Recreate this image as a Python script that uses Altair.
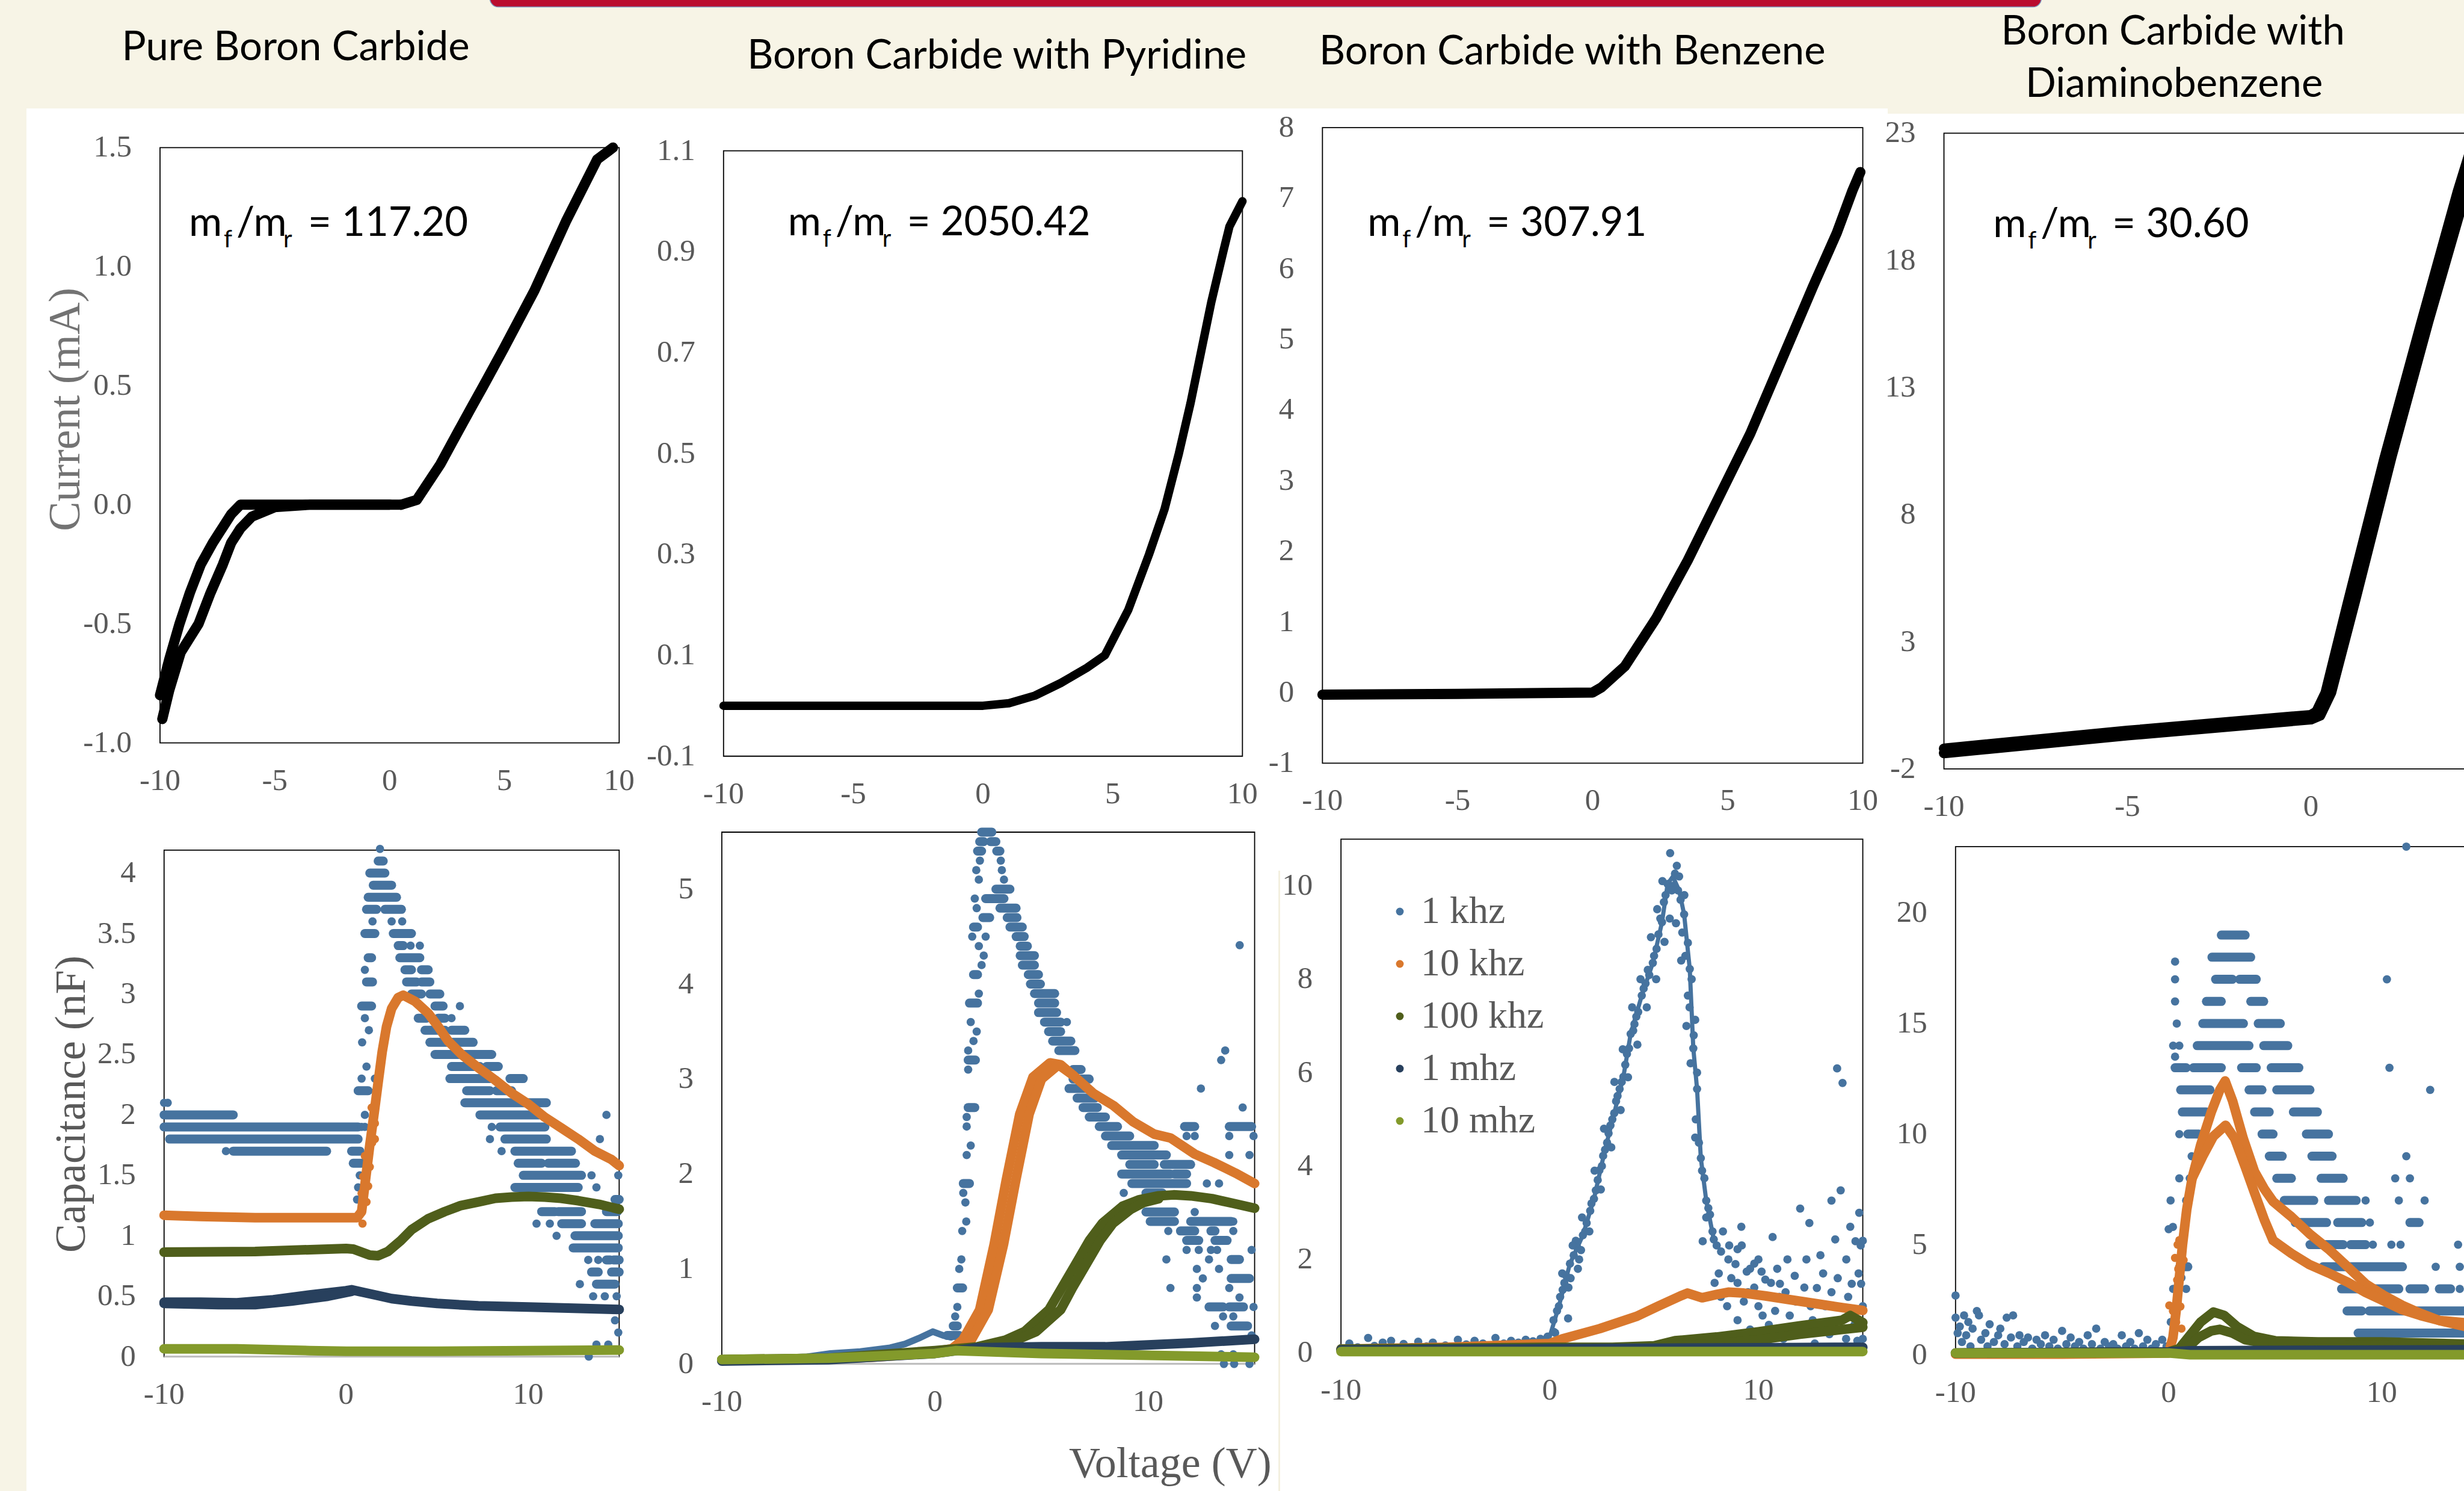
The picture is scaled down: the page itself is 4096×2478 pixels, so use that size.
import altair as alt
import pandas as pd

F = 4096 / 4250  # reference pixels -> output pixels

CREAM = "#F7F4E6"
GRAY_TXT = "#595959"

# ---------------- text ----------------
TITLES = ["Pure Boron Carbide", "Boron Carbide with Pyridine", "Boron Carbide with Benzene",
          "Boron Carbide with", "Diaminobenzene"]
RATIOS = ["117.20", "2050.42", "307.91", "30.60"]
SERIES = ["1 khz", "10 khz", "100 khz", "1 mhz", "10 mhz"]
COLORS = ["#46739F", "#D9782D", "#4F5E1B", "#28405D", "#839A2B"]
Y_TITLE_IV = "Current (mA)"
Y_TITLE_C = "Capacitance (nF)"
X_TITLE = "Voltage (V)"

X_TOP = ["-10", "-5", "0", "5", "10"]
X_TOP_CUT = ["-10", "-5", "0"]          # the right half of this panel lies outside the picture
X_BOT = ["-10", "0", "10"]
Y_P1 = ["-1.0", "-0.5", "0.0", "0.5", "1.0", "1.5"]
Y_P2 = ["-0.1", "0.1", "0.3", "0.5", "0.7", "0.9", "1.1"]
Y_P3 = ["-1", "0", "1", "2", "3", "4", "5", "6", "7", "8"]
Y_P4 = ["-2", "3", "8", "13", "18", "23"]
Y_P5 = ["0", "0.5", "1", "1.5", "2", "2.5", "3", "3.5", "4"]
Y_P6 = ["0", "1", "2", "3", "4", "5"]
Y_P7 = ["0", "2", "4", "6", "8", "10"]
Y_P8 = ["0", "5", "10", "15", "20"]

# ---------------- I-V data ----------------
P1_LEFT_A = [(-10, -0.8), (-9.6, -0.65), (-9.15, -0.5), (-8.7, -0.37), (-8.22, -0.25), (-7.7, -0.16),
             (-7.3, -0.1), (-6.9, -0.04), (-6.5, 0.0), (-5.0, 0.0), (0.0, 0.0), (0.5, 0.0)]
P1_LEFT_B = [(-9.9, -0.9), (-9.6, -0.78), (-9.1, -0.62), (-8.32, -0.5), (-7.8, -0.37), (-7.26, -0.25),
             (-6.9, -0.16), (-6.5, -0.1), (-6.0, -0.05), (-5.0, -0.01), (-3.5, 0.0), (0.0, 0.0)]
P1_RIGHT = [(0.5, 0.0), (1.18, 0.02), (2.21, 0.17), (3.0, 0.31), (3.57, 0.41), (4.09, 0.5), (4.94, 0.65),
            (6.31, 0.9), (7.68, 1.19), (9.04, 1.45), (9.73, 1.5)]
P2_IV = [(-10, 0.0), (0, 0.0), (1, 0.005), (2, 0.02), (3, 0.045), (4, 0.075), (4.7, 0.1), (5.6, 0.19),
         (6.4, 0.3), (7.0, 0.39), (7.55, 0.5), (8.0, 0.6), (8.4, 0.7), (8.8, 0.8), (9.26, 0.9),
         (9.5, 0.95), (9.8, 0.98), (10.0, 1.0)]
P3_IV = [(-10, -0.03), (-5, -0.02), (0, 0.0), (0.32, 0.07), (1.19, 0.37), (2.35, 1.05), (3.52, 1.87),
         (4.68, 2.77), (5.84, 3.67), (7.0, 4.71), (8.17, 5.76), (9.04, 6.51), (9.62, 7.11), (9.91, 7.37)]
P4_IV_A = [(-10, -1.2), (-5, -0.5), (0, 0.12), (0.15, 0.25), (0.4, 1.0), (1.0, 4.5), (2.0, 10.2),
           (3.0, 15.5), (4.0, 20.7), (4.45, 22.8)]
P4_IV_B = [(-10, -1.38), (-5, -0.68), (0, -0.05), (0.25, 0.1), (0.55, 1.0), (1.2, 4.6), (2.2, 10.3),
           (3.2, 15.6), (4.2, 20.6), (4.6, 22.6)]

# ---------------- capacitance data ----------------
# blue (1 khz) rows of dense dots: (level, from V, to V) and single dots (V, nF)
P5_BLUE_SEG = [
    (2.0, -10.0, -6.2), (1.9, -10.0, 0.66), (1.8, -9.7, 0.66), (1.7, -6.2, -1.07), (1.7, 0.30, 0.76),
    (1.6, 0.39, 0.85), (4.1, 1.76, 2.04), (4.0, 1.30, 2.13), (3.9, 1.49, 2.50), (3.8, 1.21, 2.77),
    (3.7, 1.12, 1.67), (3.7, 2.13, 3.04), (3.5, 1.03, 1.58), (3.5, 2.59, 3.59), (3.4, 2.86, 3.14),
    (3.3, 1.21, 1.40), (3.3, 2.95, 4.05), (3.2, 3.23, 3.59), (3.2, 4.14, 4.51), (3.1, 1.12, 1.45),
    (3.1, 3.32, 3.87), (3.1, 4.14, 4.60), (3.0, 3.59, 4.14), (3.0, 4.60, 5.15), (2.9, 0.85, 1.40),
    (2.9, 4.88, 5.33), (2.8, 3.96, 4.42), (2.8, 5.06, 5.43), (2.7, 4.33, 5.43), (2.7, 5.79, 6.52),
    (2.6, 4.60, 6.98), (2.5, 4.88, 8.0), (2.4, 5.79, 7.35), (2.4, 7.71, 8.36), (2.3, 5.70, 7.90),
    (2.3, 9.0, 9.73), (2.2, 0.66, 1.21), (2.2, 6.62, 7.90), (2.2, 8.26, 9.09), (2.1, 6.52, 11.0),
    (2.0, 7.35, 10.6), (1.9, 8.45, 10.92), (1.8, 8.72, 11.0), (1.7, 9.27, 12.38), (1.6, 9.45, 10.74),
    (1.6, 11.1, 12.6), (1.5, 9.73, 12.93), (1.4, 9.27, 12.75), (1.3, 14.77, 15.0), (1.2, 10.74, 11.47),
    (1.2, 11.65, 12.93), (1.2, 14.3, 14.9), (1.1, 11.84, 12.93), (1.1, 13.66, 14.95), (1.0, 12.57, 14.95),
    (0.9, 12.47, 14.95), (0.8, 14.3, 14.5), (0.8, 14.7, 15.0), (0.7, 13.48, 13.85), (0.7, 14.58, 15.0),
    (0.6, 13.75, 14.77)]
P5_BLUE_PTS = [
    (-10.0, 2.1), (-9.8, 2.1), (-6.6, 1.7), (0.85, 1.9), (1.03, 1.9), (1.86, 4.2), (1.45, 3.6), (2.50, 3.6),
    (3.08, 3.6), (3.54, 3.4), (4.05, 3.4), (1.03, 3.2), (6.25, 2.9), (1.03, 2.8), (5.79, 2.8), (1.25, 2.7),
    (0.88, 2.6), (1.12, 2.4), (0.85, 2.3), (1.58, 2.3), (1.03, 2.0), (14.3, 2.0), (8.0, 1.9), (7.90, 1.8),
    (13.94, 1.8), (0.48, 1.7), (8.54, 1.7), (13.48, 1.5), (14.95, 1.5), (0.66, 1.4), (13.75, 1.4),
    (10.46, 1.1), (11.19, 1.1), (11.56, 1.0), (13.3, 0.8), (13.85, 0.8), (12.84, 0.6), (13.57, 0.5),
    (14.21, 0.5), (14.86, 0.5), (14.77, 0.3), (14.95, 0.2), (13.75, 0.1), (14.4, 0.1), (13.33, 0.0),
    (0.6, 1.3), (0.75, 1.5)]
P5_ORANGE_PTS = [(0.94, 1.49), (1.21, 1.41), (1.03, 1.66), (1.43, 1.77), (1.58, 1.80), (1.30, 1.57),
                 (1.12, 1.28), (0.85, 1.35), (1.58, 1.93), (1.40, 2.06), (0.9, 1.1)]
P5_ORANGE = [(-10, 1.17), (-8, 1.16), (-5, 1.15), (-2, 1.15), (0, 1.15), (0.6, 1.15), (0.85, 1.2),
             (1.03, 1.42), (1.30, 1.75), (1.58, 2.06), (1.76, 2.27), (1.98, 2.52), (2.22, 2.73),
             (2.50, 2.88), (2.86, 2.97), (3.14, 2.99), (3.78, 2.94), (4.51, 2.84), (5.06, 2.73),
             (5.61, 2.61), (6.34, 2.50), (7.26, 2.39), (8.17, 2.29), (9.09, 2.18), (10.0, 2.09),
             (10.92, 1.98), (11.84, 1.89), (12.75, 1.80), (13.67, 1.70), (14.58, 1.63), (15.0, 1.58)]
P5_OLIVE = [(-10, 0.865), (-5, 0.87), (0, 0.895), (0.4, 0.89), (0.85, 0.865), (1.3, 0.84), (1.76, 0.835),
            (2.3, 0.87), (3.0, 0.96), (3.59, 1.05), (4.5, 1.14), (5.42, 1.20), (6.3, 1.25), (7.26, 1.28),
            (8.2, 1.31), (9.09, 1.32), (10.0, 1.325), (10.92, 1.32), (11.8, 1.31), (12.75, 1.29),
            (13.9, 1.26), (15.0, 1.22)]
P5_NAVY = [(-10, 0.45), (-8, 0.45), (-6, 0.445), (-4, 0.47), (-2, 0.51), (0, 0.545), (0.3, 0.553),
           (1.0, 0.53), (1.76, 0.505), (2.5, 0.48), (3.59, 0.46), (5.0, 0.44), (7.26, 0.42), (10.0, 0.41),
           (12.5, 0.40), (15.0, 0.39)]
P5_NAVY_B = [(-10, 0.44), (-7, 0.43), (-5, 0.43), (-3, 0.46), (-1, 0.5), (0.3, 0.54)]
P5_LIGHT = [(-10, 0.065), (-6, 0.065), (-2, 0.05), (0, 0.045), (5, 0.045), (10, 0.05), (15, 0.055)]

P6_BLUE_SEG = [
    (5.6, 2.19, 2.67), (5.5, 2.10, 2.29), (5.5, 2.61, 2.86), (5.4, 2.0, 2.19), (5.4, 2.90, 3.05),
    (5.0, 2.86, 3.52), (4.9, 2.38, 3.24), (4.8, 3.05, 3.81), (4.7, 2.25, 2.57), (4.7, 3.39, 3.85),
    (4.6, 1.81, 2.0), (4.6, 3.52, 4.10), (4.5, 3.81, 4.19), (4.4, 4.0, 4.34), (4.3, 4.0, 4.67),
    (4.2, 4.1, 4.67), (4.1, 1.81, 2.0), (4.1, 4.38, 4.86), (4.0, 4.48, 4.95), (3.9, 4.67, 5.62),
    (3.8, 1.62, 2.0), (3.8, 4.86, 5.62), (3.7, 4.86, 5.71), (3.6, 5.14, 5.90), (3.5, 5.33, 5.90),
    (3.4, 5.52, 6.38), (3.3, 5.81, 6.57), (3.2, 1.56, 1.90), (3.1, 6.48, 6.86), (3.0, 6.48, 7.24),
    (2.9, 6.29, 7.14), (2.8, 6.67, 7.52), (2.7, 1.56, 1.87), (2.7, 6.95, 7.62), (2.6, 7.24, 8.0),
    (2.5, 7.71, 8.57), (2.5, 11.71, 12.19), (2.5, 13.81, 14.86), (2.4, 8.0, 9.14), (2.3, 8.29, 10.29),
    (2.2, 8.76, 10.86), (2.1, 9.14, 10.29), (2.1, 10.76, 12.0), (2.0, 8.76, 11.05), (2.0, 11.24, 11.81),
    (1.9, 1.33, 1.62), (1.9, 9.24, 11.81), (1.8, 9.9, 10.67), (1.6, 9.9, 11.24), (1.5, 10.1, 11.24),
    (1.5, 12.0, 13.9), (1.4, 11.52, 12.19), (1.4, 12.95, 13.14), (1.3, 11.81, 12.38), (1.3, 13.14, 13.71),
    (1.1, 13.9, 14.29), (0.9, 13.9, 14.76), (0.8, 1.05, 1.30), (0.6, 12.86, 13.52), (0.6, 13.81, 14.48),
    (0.4, 0.86, 1.05), (0.4, 13.9, 14.67), (0.3, 0.57, 1.14)]
P6_BLUE_PTS = [
    (2.11, 5.3), (3.09, 5.3), (1.94, 5.2), (3.14, 5.2), (2.06, 5.1), (3.24, 5.1), (1.87, 4.9), (1.96, 4.8),
    (1.75, 4.5), (2.38, 4.5), (2.06, 4.4), (2.29, 4.3), (2.19, 4.2), (2.06, 3.9), (1.68, 3.6), (6.19, 3.6),
    (1.96, 3.5), (1.81, 3.4), (1.56, 3.3), (13.43, 3.2), (13.62, 3.3), (1.56, 3.1), (12.48, 2.9),
    (14.44, 2.7), (1.49, 2.6), (1.49, 2.5), (11.81, 2.4), (12.19, 2.4), (13.81, 2.4), (14.95, 2.4),
    (1.68, 2.3), (1.49, 2.2), (13.81, 2.2), (14.76, 2.2), (12.76, 1.9), (13.33, 1.9), (1.33, 1.8),
    (8.86, 1.8), (1.43, 1.7), (12.19, 1.6), (1.47, 1.5), (14.0, 1.5), (1.28, 1.4), (10.95, 1.4),
    (14.0, 1.4), (11.81, 1.2), (12.38, 1.2), (12.95, 1.2), (13.24, 1.2), (14.86, 1.2), (1.24, 1.1),
    (10.86, 1.1), (12.86, 1.1), (1.14, 1.0), (12.29, 1.0), (13.33, 1.0), (12.57, 0.9), (11.05, 0.8),
    (12.29, 0.8), (13.81, 0.8), (12.29, 0.7), (14.29, 0.7), (1.05, 0.6), (14.95, 0.6), (0.95, 0.5),
    (13.52, 0.5), (14.0, 0.5), (13.14, 0.4), (14.86, 0.3), (13.43, 0.1), (14.0, 0.1), (13.56, 0.0),
    (14.04, 0.0), (14.76, 0.0), (14.3, 4.41)]
P6_BLUE_LINE = [(-10, 0.05), (-8, 0.06), (-6, 0.075), (-4.9, 0.11), (-3.5, 0.13), (-2.1, 0.17),
                (-1.4, 0.21), (-0.76, 0.27), (-0.1, 0.34), (0.38, 0.3), (0.76, 0.28), (1.0, 0.3)]
P6_ORANGE_A = [(-10, 0.04), (-6, 0.05), (-3, 0.07), (-1, 0.1), (0, 0.13), (0.8, 0.16), (1.3, 0.25),
               (2.1, 0.57), (2.78, 1.26), (3.35, 1.94), (3.98, 2.63), (4.6, 3.02), (5.4, 3.17), (5.9, 3.15),
               (6.48, 3.04), (7.43, 2.85), (8.38, 2.72), (9.3, 2.55), (10.29, 2.42), (11.05, 2.38),
               (12.19, 2.21), (13.1, 2.12), (14.1, 2.01), (15.0, 1.9)]
P6_ORANGE_B = [(0.8, 0.16), (1.7, 0.25), (2.5, 0.57), (3.22, 1.26), (3.8, 1.94), (4.42, 2.63), (5.0, 3.0),
               (5.8, 3.15), (6.48, 3.04)]
P6_OLIVE_A = [(-10, 0.046), (-5, 0.06), (0, 0.14), (2, 0.18), (3.3, 0.25), (4.2, 0.34), (5.35, 0.57),
              (5.95, 0.8), (6.55, 1.03), (7.25, 1.3), (7.85, 1.48), (8.8, 1.66), (9.6, 1.73), (10.5, 1.77),
              (11.2, 1.78), (12.0, 1.77), (13.0, 1.74), (14.0, 1.69), (15.0, 1.64)]
P6_OLIVE_B = [(2, 0.17), (3.7, 0.24), (4.75, 0.34), (5.9, 0.57), (6.45, 0.8), (7.05, 1.03), (7.75, 1.3),
              (8.35, 1.48), (9.2, 1.63), (9.8, 1.70), (10.5, 1.74)]
P6_NAVY = [(-10, 0.03), (-5, 0.045), (0, 0.11), (2, 0.17), (5, 0.18), (8, 0.18), (10, 0.2), (12, 0.22),
           (15, 0.26)]
P6_LIGHT = [(-10, 0.046), (-5, 0.06), (0, 0.11), (1, 0.14), (5, 0.11), (10, 0.09), (15, 0.07)]

P7_BLUE_RIDGE = [(0.0, 0.35), (0.44, 1.0), (0.97, 1.91), (1.59, 2.52), (2.12, 3.3), (2.65, 4.35),
                 (3.09, 5.13), (3.53, 5.91), (3.88, 6.83), (4.41, 7.65), (4.94, 8.35), (5.38, 9.22),
                 (5.65, 10.04), (5.9, 10.2), (6.2, 9.9), (6.44, 9.39), (6.71, 8.22), (6.88, 6.52),
                 (7.06, 5.65), (7.24, 4.17), (7.5, 3.26), (7.86, 2.43)]
P7_BLUE_PTS = [
    (-10, 0.1), (-9.6, 0.2), (-9.2, 0.12), (-8.7, 0.32), (-8.4, 0.15), (-8.0, 0.22), (-7.6, 0.26),
    (-7.0, 0.19), (-6.6, 0.12), (-6.3, 0.24), (-5.9, 0.14), (-5.6, 0.22), (-5.0, 0.16), (-4.4, 0.28),
    (-4.0, 0.18), (-3.6, 0.26), (-3.2, 0.2), (-2.6, 0.32), (-2.2, 0.2), (-1.85, 0.26), (-1.5, 0.22),
    (-1.15, 0.28), (-0.8, 0.25), (-0.44, 0.3), (-0.1, 0.35), (0.2, 0.45),
    (0.18, 0.70), (0.26, 0.43), (0.44, 1.0), (0.62, 1.35), (0.79, 1.65), (0.88, 0.74), (0.97, 1.91),
    (1.15, 2.09), (1.32, 2.26), (1.41, 2.0), (1.59, 2.52), (1.77, 2.78), (1.94, 3.04), (2.12, 3.3),
    (2.21, 3.48), (2.38, 3.91), (2.56, 4.22), (2.65, 4.35), (2.82, 4.7), (2.91, 4.87), (3.09, 5.13),
    (3.18, 5.39), (3.35, 5.65), (3.53, 5.91), (3.62, 6.17), (3.80, 6.52), (3.88, 6.83), (4.06, 7.04),
    (4.24, 7.3), (4.41, 7.65), (4.59, 7.91), (4.77, 8.09), (4.94, 8.35), (5.12, 8.65), (5.21, 8.96),
    (5.38, 9.22), (5.47, 9.65), (5.65, 10.04), (5.77, 10.7), (6.0, 10.26), (6.09, 10.43), (5.91, 10.0),
    (6.27, 9.7), (6.44, 9.39), (6.62, 8.78), (6.71, 8.22), (6.8, 8.0), (6.62, 7.65), (6.97, 7.13),
    (6.88, 6.52), (7.06, 6.0), (7.06, 5.65), (6.97, 4.61), (7.24, 4.17), (7.41, 3.74), (7.5, 3.26),
    (7.68, 2.96), (7.33, 2.39), (7.86, 2.43), (8.21, 2.17), (8.56, 2.0),
    (0.5, 1.2), (0.7, 1.5), (1.0, 1.6), (1.25, 2.4), (1.5, 2.2), (1.7, 2.6), (2.0, 3.2), (2.3, 3.7),
    (2.5, 4.0), (2.75, 4.5), (3.0, 5.0), (3.25, 5.5), (3.45, 5.8), (3.7, 6.4), (4.0, 6.9), (4.15, 7.2),
    (4.5, 7.8), (4.7, 8.2), (5.0, 8.5), (5.3, 9.3), (5.55, 9.8), (5.85, 9.9), (6.15, 9.9), (6.35, 9.0),
    (6.5, 8.5), (6.7, 7.4), (6.9, 6.8), (7.0, 5.0), (7.15, 4.5), (7.3, 3.9), (7.6, 3.1),
    (0.9, 1.4), (1.35, 1.8), (1.9, 2.6), (2.45, 3.5), (2.95, 4.4), (3.4, 5.2), (3.75, 5.9), (4.2, 6.6),
    (4.65, 7.4), (5.1, 8.0), (5.5, 8.8), (5.75, 9.3), (6.05, 9.2), (6.3, 8.4), (6.55, 7.0), (6.75, 6.2),
    (0.35, 0.9), (0.6, 1.7), (1.1, 2.3), (1.55, 2.9), (2.15, 3.9), (2.6, 4.8), (3.1, 5.8), (3.5, 6.5),
    (3.95, 7.4), (4.35, 8.0), (4.85, 8.9), (5.15, 9.5), (5.4, 10.1), (6.2, 10.2), (6.45, 9.8),
    (9.0, 2.22), (9.18, 2.7), (9.44, 1.74), (9.8, 1.91), (10.15, 1.74), (10.33, 1.57), (10.68, 2.48),
    (11.03, 1.48), (11.39, 2.0), (11.74, 1.65), (12.0, 3.09), (12.44, 2.78), (12.8, 1.39), (12.97, 2.09),
    (13.5, 3.26), (13.68, 2.43), (13.77, 6.09), (14.03, 5.78), (13.94, 3.48), (14.21, 2.0), (14.47, 1.48),
    (14.65, 2.39), (14.83, 3.0), (14.92, 1.48), (14.74, 0.26), (8.5, 1.0), (9.0, 0.7), (9.5, 1.3),
    (10.0, 1.0), (10.5, 0.6), (11.0, 1.2), (11.5, 0.8), (12.0, 0.4), (12.5, 1.0), (13.0, 0.6), (13.5, 1.3),
    (14.0, 0.5), (14.5, 0.9), (15.0, 0.3), (11.2, 0.3), (12.7, 0.2), (10.8, 0.9), (7.5, 2.9), (7.8, 2.6),
    (8.0, 2.3), (8.3, 2.6), (8.6, 2.3), (8.9, 1.9), (9.2, 2.3), (9.6, 1.8), (10.0, 2.0), (8.1, 1.7),
    (9.0, 1.5), (7.9, 1.5), (8.2, 1.2), (8.7, 1.6), (9.3, 1.1), (9.8, 1.4), (10.2, 0.8), (10.6, 1.5),
    (11.3, 1.3), (11.8, 1.1), (12.2, 1.4), (12.6, 0.7), (13.2, 1.0), (13.8, 1.6), (14.3, 1.2), (14.8, 1.7),
    (14.9, 2.3), (15.0, 1.0), (9.6, 0.5), (11.6, 0.5), (13.4, 0.4), (14.2, 0.3), (12.3, 2.0), (13.1, 1.7),
    (10.9, 1.8), (14.6, 0.6), (15.0, 2.4), (14.4, 2.7)]
P7_ORANGE = [(-10, 0.08), (-5, 0.12), (0, 0.2), (0.6, 0.3), (2.4, 0.52), (4.15, 0.78), (5.2, 1.0),
             (6.27, 1.22), (6.6, 1.28), (7.3, 1.18), (8.0, 1.25), (8.56, 1.3), (9.3, 1.28), (10.33, 1.22),
             (11.5, 1.14), (12.97, 1.04), (14.0, 0.97), (15.0, 0.91)]
P7_OLIVE_A = [(-10, 0.08), (0, 0.12), (3, 0.12), (5, 0.15), (6, 0.26), (8, 0.34), (10, 0.45), (12, 0.58),
              (14, 0.7), (14.4, 0.8), (15, 0.65)]
P7_OLIVE_B = [(5, 0.12), (8, 0.2), (10, 0.28), (12, 0.4), (14, 0.5), (15, 0.55)]
P7_NAVY = [(-10, 0.06), (0, 0.09), (5, 0.1), (10, 0.11), (15, 0.12)]
P7_LIGHT = [(-10, 0.03), (0, 0.03), (15, 0.03)]

P8_BLUE_SEG = [
    (19, 2.47, 3.59), (18, 2.03, 3.85), (17, 2.20, 2.99), (17, 3.33, 4.11), (16, 1.77, 2.47),
    (16, 3.85, 4.46), (15, 1.60, 3.51), (15, 4.20, 5.24), (14, 1.34, 3.77), (14, 4.46, 5.59),
    (13, 0.30, 0.82), (13, 1.16, 2.47), (13, 3.42, 4.11), (13, 4.81, 6.11), (12, 0.56, 1.94),
    (12, 3.77, 4.38), (12, 5.07, 6.63), (11, 0.64, 1.77), (11, 4.03, 4.72), (11, 5.85, 6.98),
    (10, 0.90, 1.42), (10, 4.38, 4.90), (10, 6.46, 7.50), (9, 4.72, 5.33), (9, 6.72, 7.67),
    (8, 5.07, 5.76), (8, 7.15, 8.19), (7, 5.42, 6.81), (7, 7.50, 8.80), (6, 5.94, 7.41), (6, 7.93, 9.06),
    (6, 11.32, 11.75), (5, 6.63, 8.19), (5, 8.54, 9.24), (4, 0.73, 0.90), (4, 7.24, 10.97),
    (3, 8.11, 10.80), (3, 11.32, 12.01), (3, 12.70, 13.23), (2, 8.37, 9.06), (2, 9.41, 14.5),
    (1, 8.89, 14.5)]
P8_BLUE_PTS = [
    (0.3, 17.8), (0.3, 17), (10.24, 17), (0.3, 16), (0.38, 15), (0.21, 14), (0.5, 14), (0.3, 13.5),
    (10.36, 13), (12.27, 12), (0.5, 10), (1.08, 9), (11.15, 9), (0.5, 8), (0.99, 8), (10.63, 8),
    (11.32, 8), (0.09, 7), (0.82, 7), (9.24, 7), (10.8, 7), (12.01, 7), (9.44, 6), (0.0, 5.7), (0.2, 5.8),
    (9.58, 5), (10.45, 5), (10.88, 5), (13.58, 5), (12.53, 4), (13.66, 4), (0.21, 3), (0.82, 3),
    (13.66, 3), (11.15, 23.0), (0.5, 4.0), (0.6, 3.5),
    (-10, 2.7), (-10, 1.7), (-9.9, 1.0), (-9.8, 1.3), (-9.7, 0.6), (-9.6, 1.8), (-9.5, 0.9), (-9.4, 1.5),
    (-9.3, 0.4), (-9.2, 1.2), (-9.0, 2.0), (-8.9, 1.8), (-8.8, 0.7), (-8.6, 1.0), (-8.5, 0.4), (-8.4, 1.4),
    (-8.2, 0.6), (-8.0, 0.9), (-7.9, 1.2), (-7.7, 0.5), (-7.6, 1.7), (-7.4, 0.8), (-7.3, 1.8), (-7.1, 0.4),
    (-7.0, 0.9), (-6.8, 0.6), (-6.6, 0.8), (-6.4, 0.3), (-6.2, 0.7), (-6.0, 0.5), (-5.8, 0.9), (-5.6, 0.4),
    (-5.4, 0.7), (-5.2, 0.3), (-5.0, 1.1), (-4.8, 0.5), (-4.6, 0.8), (-4.4, 0.4), (-4.2, 0.6), (-4.0, 0.3),
    (-3.8, 0.9), (-3.6, 0.5), (-3.4, 1.2), (-3.2, 0.3), (-3.0, 0.6), (-2.8, 0.4), (-2.6, 0.5), (-2.4, 0.3),
    (-2.2, 0.9), (-2.0, 0.4), (-1.8, 0.6), (-1.6, 0.3), (-1.4, 1.0), (-1.2, 0.4), (-1.0, 0.7), (-0.8, 0.3),
    (-0.6, 0.5), (-0.3, 0.7), (-0.1, 0.4), (0.1, 1.5), (0.2, 2.2)]
P8_ORANGE_PTS = [(0.03, 2.25), (0.42, 5.0), (0.5, 5.2), (0.3, 4.4), (0.4, 3.4), (0.55, 2.2), (0.2, 2.0),
                 (0.35, 1.5), (0.6, 1.2), (0.45, 3.9), (0.7, 4.3)]
P8_ORANGE_A = [(-10, 0.05), (-5, 0.05), (0, 0.1), (0.2, 0.8), (0.35, 2.0), (0.5, 3.5), (0.65, 5.0),
               (0.85, 6.6), (1.1, 8.0), (1.5, 9.5), (2.0, 11.0), (2.4, 12.0), (2.65, 12.4), (3.0, 11.5),
               (3.5, 9.8), (4.03, 8.3), (4.5, 7.5), (4.9, 6.95), (5.76, 6.26), (6.6, 5.5), (7.5, 4.8),
               (8.4, 4.0), (9.24, 3.23), (10.1, 2.7), (10.97, 2.25), (11.8, 1.9), (12.7, 1.57),
               (13.9, 1.47), (15.0, 1.35)]
P8_ORANGE_B = [(1.1, 8.0), (1.6, 9.0), (2.1, 9.9), (2.67, 10.4), (3.1, 9.8), (3.6, 8.5), (4.03, 7.34),
               (4.5, 6.1), (4.9, 5.19), (5.76, 4.6), (6.6, 4.1), (7.5, 3.72), (8.4, 3.3), (9.24, 2.84),
               (10.1, 2.45), (10.97, 2.05), (11.8, 1.8), (12.7, 1.57), (13.9, 1.3), (15.0, 1.2)]
P8_OLIVE_A = [(-10, 0.1), (0, 0.15), (0.5, 0.3), (1.0, 0.9), (1.5, 1.5), (2.1, 1.95), (2.6, 1.8),
              (3.2, 1.3), (4.0, 0.85), (5.0, 0.65), (7, 0.6), (10, 0.6), (14, 0.5), (15, 0.48)]
P8_OLIVE_B = [(0.4, 0.15), (0.9, 0.35), (1.4, 0.8), (2.0, 1.1), (2.4, 1.17), (3.0, 1.0), (3.6, 0.7),
              (4.5, 0.55), (5.5, 0.5), (10, 0.45), (15, 0.4)]
P8_NAVY = [(-10, 0.1), (0, 0.15), (1, 0.2), (15, 0.25)]
P8_LIGHT = [(-10, 0.1), (0, 0.1), (1, 0.02), (15, 0.02)]

# ---------------- panel geometry (reference pixels) ----------------
GEOM = {
    "P1": dict(xd=[-10, 10], xr=[276, 1068], yd=[-1, 1.5], yr=[1281, 254.5]),
    "P2": dict(xd=[-10, 10], xr=[1248, 2143], yd=[-0.1, 1.1], yr=[1304, 260]),
    "P3": dict(xd=[-10, 10], xr=[2281, 3213], yd=[-1, 8], yr=[1316, 220]),
    "P4": dict(xd=[-10, 10], xr=[3353, 4619], yd=[-2, 23], yr=[1326, 229.6]),
    "P5": dict(xd=[-10, 15], xr=[283, 1068], yd=[0, 4.19], yr=[2339.5, 1466]),
    "P6": dict(xd=[-10, 15], xr=[1245, 2164], yd=[0, 5.6], yr=[2352, 1435]),
    "P7": dict(xd=[-10, 15], xr=[2313, 3213], yd=[0, 11], yr=[2333, 1447]),
    "P8": dict(xd=[-10, 15], xr=[3373, 4292], yd=[0, 23], yr=[2337, 1460]),
}
for g in GEOM.values():
    g["xs"] = alt.Scale(domain=g["xd"], range=[v * F for v in g["xr"]], nice=False, zero=False)
    g["ys"] = alt.Scale(domain=g["yd"], range=[v * F for v in g["yr"]], nice=False, zero=False)

LW_IV = 17      # width of the dense black I-V traces
LW_C = 16       # width of the dense capacitance traces
DOT = 190       # area of the 1 khz dots
ROW = 15        # width of rows of touching dots

layers = []
ONE = pd.DataFrame({"k": [0]})


def X(P, f="x"):
    return alt.X(f"{f}:Q", scale=P["xs"], axis=None)


def Y(P, f="y"):
    return alt.Y(f"{f}:Q", scale=P["ys"], axis=None)


def add_line(P, pts, color, w=LW_C):
    d = pd.DataFrame(pts, columns=["x", "y"])
    d["i"] = range(len(d))
    layers.append(alt.Chart(d).mark_line(color=color, strokeWidth=w, strokeCap="round",
                                         strokeJoin="round").encode(x=X(P), y=Y(P), order="i:Q"))


def add_pts(P, pts, color, size=DOT, legend=False):
    d = pd.DataFrame(pts, columns=["x", "y"])
    if legend:
        d["s"] = SERIES[0]
        layers.append(alt.Chart(d).mark_circle(size=size, opacity=1).encode(
            x=X(P), y=Y(P),
            color=alt.Color("s:N", scale=alt.Scale(domain=SERIES, range=COLORS),
                            legend=alt.Legend(title=None, orient="none", direction="vertical",
                                              legendX=2295, legendY=1483, symbolType="circle",
                                              symbolSize=165, symbolStrokeWidth=0, padding=0,
                                              labelFont="Liberation Serif", labelFontSize=64,
                                              labelColor=GRAY_TXT, labelOffset=3, rowPadding=23,
                                              labelLimit=400))))
    else:
        layers.append(alt.Chart(d).mark_circle(size=size, opacity=1, color=color).encode(x=X(P), y=Y(P)))


def add_segs(P, segs, color, w=ROW):
    d = pd.DataFrame(segs, columns=["y", "x1", "x2"])
    layers.append(alt.Chart(d).mark_rule(color=color, strokeWidth=w, strokeCap="round").encode(
        x=X(P, "x1"), x2="x2:Q", y=Y(P)))


def add_frame(P, bottom_gray=False):
    d = pd.DataFrame({"x1": [P["xd"][0]], "x2": [P["xd"][1]], "y1": [P["yd"][0]], "y2": [P["yd"][1]]})
    layers.append(alt.Chart(d).mark_rect(fillOpacity=0, stroke="black", strokeWidth=1.8).encode(
        x=X(P, "x1"), x2="x2:Q", y=Y(P, "y1"), y2="y2:Q"))
    if bottom_gray:
        layers.append(alt.Chart(d).mark_rule(color="#BFBFBF", strokeWidth=3).encode(
            x=X(P, "x1"), x2="x2:Q", y=Y(P, "y1")))


def add_ticks(P, xlabels, ylabels):
    dx = pd.DataFrame({"t": xlabels, "v": [float(s) for s in xlabels]})
    dx["y0"] = P["yd"][0]
    layers.append(alt.Chart(dx).mark_text(align="center", baseline="middle", dy=63,
                                          font="Liberation Serif", fontSize=51, color=GRAY_TXT).encode(
        x=X(P, "v"), y=Y(P, "y0"), text="t:N"))
    dy = pd.DataFrame({"t": ylabels, "v": [float(s) for s in ylabels]})
    dy["x0"] = P["xd"][0]
    layers.append(alt.Chart(dy).mark_text(align="right", baseline="middle", dx=-47,
                                          font="Liberation Serif", fontSize=51, color=GRAY_TXT).encode(
        x=X(P, "x0"), y=Y(P, "v"), text="t:N"))


def add_annot(P, ax, ay, value):
    pieces = [("m", 0, 67, 0), ("f", 58, 40, 19), ("/m", 79, 67, 0), ("r", 157, 40, 19),
              ("= " + value, 198, 67, 0)]
    d = pd.DataFrame({"x": [ax], "y": [ay]})
    for txt, off, fs, dyv in pieces:
        layers.append(alt.Chart(d).mark_text(align="left", baseline="alphabetic", dx=off, dy=dyv,
                                             font="Lato", fontSize=fs, color="black", text=txt).encode(
            x=X(P), y=Y(P)))


def box(x1, x2, y1, y2, color, **kw):
    layers.append(alt.Chart(ONE).mark_rect(color=color, **kw).encode(
        x=alt.value(x1), x2=alt.value(x2), y=alt.value(y1), y2=alt.value(y2)))


def label(txt, x, y, font, size, color, angle=0, baseline="alphabetic"):
    layers.append(alt.Chart(ONE).mark_text(font=font, fontSize=size, color=color, angle=angle,
                                           align="center", baseline=baseline, text=txt).encode(
        x=alt.value(x), y=alt.value(y)))


# ---------------- background ----------------
box(3256 * F, 4096, 196 * F, 2478, "white")
box(45.6 * F, 3256 * F, 187 * F, 2478, "white")
box(845 * F, 3521 * F, -30, 12 * F, "#BA0C2F", cornerRadius=14, stroke="#7D93BC", strokeWidth=1.5)
box(2205 * F, 2208 * F, 1447, 2478, "#F3EFDF")

# titles
TPOS = [(510, 104), (1719.5, 118.6), (2712, 111), (3748, 77), (3750, 167)]
for t, (tx, ty) in zip(TITLES, TPOS):
    label(t, tx * F, ty * F, "Lato", 67, "black")

# ---------------- I-V panels ----------------
P = GEOM["P1"]
add_frame(P)
add_line(P, P1_LEFT_A, "black", LW_IV)
add_line(P, P1_LEFT_B, "black", LW_IV)
add_line(P, P1_RIGHT, "black", LW_IV)
add_ticks(P, X_TOP, Y_P1)
add_annot(P, -8.74, 1.129, RATIOS[0])

P = GEOM["P2"]
add_frame(P)
add_line(P, P2_IV, "black", 14)
add_ticks(P, X_TOP, Y_P2)
add_annot(P, -7.52, 0.932, RATIOS[1])

P = GEOM["P3"]
add_frame(P)
add_line(P, P3_IV, "black", LW_IV)
add_ticks(P, X_TOP, Y_P3)
add_annot(P, -8.33, 6.47, RATIOS[2])

P = GEOM["P4"]
add_frame(P)
add_line(P, P4_IV_A, "black", LW_IV)
add_line(P, P4_IV_B, "black", LW_IV)
add_ticks(P, X_TOP_CUT, Y_P4)
add_annot(P, -8.66, 18.91, RATIOS[3])

# ---------------- capacitance panels ----------------
BL, OR, OL, NV, LG = COLORS

P = GEOM["P5"]
add_frame(P, True)
add_segs(P, P5_BLUE_SEG, BL)
add_pts(P, P5_BLUE_PTS, BL)
add_pts(P, P5_ORANGE_PTS, OR)
add_line(P, P5_ORANGE, OR)
add_line(P, P5_OLIVE, OL)
add_line(P, P5_NAVY, NV)
add_line(P, P5_NAVY_B, NV)
add_line(P, P5_LIGHT, LG)
add_ticks(P, X_BOT, Y_P5)

P = GEOM["P6"]
add_frame(P, True)
add_segs(P, P6_BLUE_SEG, BL)
add_pts(P, P6_BLUE_PTS, BL)
add_line(P, P6_BLUE_LINE, BL, 11)
add_line(P, P6_ORANGE_A, OR)
add_line(P, P6_ORANGE_B, OR)
add_line(P, P6_OLIVE_A, OL)
add_line(P, P6_OLIVE_B, OL)
add_line(P, P6_NAVY, NV)
add_line(P, P6_LIGHT, LG)
add_ticks(P, X_BOT, Y_P6)

P = GEOM["P7"]
add_frame(P, True)
add_line(P, P7_BLUE_RIDGE, BL, 7)
add_pts(P, P7_BLUE_PTS, BL, legend=True)
add_line(P, P7_ORANGE, OR)
add_line(P, P7_OLIVE_A, OL)
add_line(P, P7_OLIVE_B, OL)
add_line(P, P7_NAVY, NV)
add_line(P, P7_LIGHT, LG)
add_ticks(P, X_BOT, Y_P7)

P = GEOM["P8"]
add_frame(P, True)
add_segs(P, P8_BLUE_SEG, BL)
add_pts(P, P8_BLUE_PTS, BL)
add_pts(P, P8_ORANGE_PTS, OR)
add_line(P, P8_ORANGE_A, OR)
add_line(P, P8_ORANGE_B, OR)
add_line(P, P8_OLIVE_A, OL)
add_line(P, P8_OLIVE_B, OL)
add_line(P, P8_NAVY, NV)
add_line(P, P8_LIGHT, LG)
add_ticks(P, X_BOT, Y_P8)

# axis titles
label(Y_TITLE_IV, 137 * F, 706 * F, "Liberation Serif", 74, "#737373", angle=270)
label(Y_TITLE_C, 146 * F, 1904 * F, "Liberation Serif", 72, GRAY_TXT, angle=270)
label(X_TITLE, 2018.5 * F, 2547 * F, "Liberation Serif", 72, GRAY_TXT)

chart = alt.layer(*layers).resolve_scale(x="independent", y="independent").properties(
    width=4096, height=2478, autosize="none", padding=0, background=CREAM
).configure_view(stroke=None)

chart.save("out.html", embed_options={"renderer": "svg", "actions": False})
